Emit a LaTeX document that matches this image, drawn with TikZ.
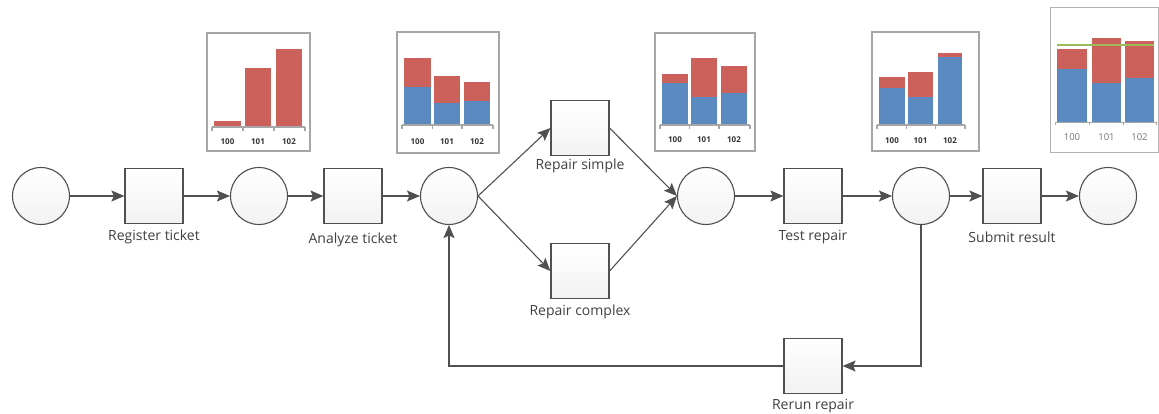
\documentclass[tikz,border=0pt]{standalone}
\usepackage{fontspec}
\setmainfont{Open Sans}
\usetikzlibrary{arrows.meta}

\definecolor{edge}{HTML}{505050}
\definecolor{txt}{HTML}{404040}
\definecolor{barred}{HTML}{CB615A}
\definecolor{barblue}{HTML}{5A8AC0}
\definecolor{target}{HTML}{9BBB59}
\definecolor{framegray}{HTML}{A6A6A6}

\tikzset{
  place/.style={circle, draw=edge, line width=1.1pt, minimum size=57pt, inner sep=0pt,
    top color=white, bottom color=black!5},
  transition/.style={rectangle, draw=edge, line width=1.2pt, minimum width=58pt, minimum height=55pt, inner sep=0pt,
    top color=white, bottom color=black!5},
  caption/.style={text=txt, font=\fontsize{14}{16}\selectfont, inner sep=0pt},
  flow/.style={draw=edge, line width=1.1pt, -{Stealth[length=13pt,width=11pt,inset=2.5pt]}},
  chartframe/.style={draw=framegray, line width=2pt},
  chartaxis/.style={draw=framegray, line width=1.2pt},
  ticklbl/.style={text=black!80, font=\fontsize{8}{9}\selectfont\bfseries, inner sep=0pt},
  ticklblb/.style={text=black!55, font=\fontsize{9.5}{11}\selectfont, inner sep=0pt},
}

\begin{document}
\begin{tikzpicture}[x=1pt, y=-1pt]
\useasboundingbox (0,0) rectangle (1159,414);

% ---- places and transitions ----
\node[place] (p1) at (41,196) {};
\node[transition] (t1) at (154,196) {};
\node[place] (p2) at (259,196) {};
\node[transition] (t2) at (353,196) {};
\node[place] (p3) at (449,196) {};
\node[transition] (t3) at (580,128) {};
\node[transition] (t4) at (580,271) {};
\node[place] (p4) at (706,196) {};
\node[transition] (t5) at (813,196) {};
\node[place] (p5) at (921,196) {};
\node[transition] (t6) at (1012,196) {};
\node[place] (p6) at (1108,196) {};
\node[transition] (t7) at (813,366) {};

% ---- captions ----
\node[caption] (l1) at (154,237) {Register ticket};
\node[caption] (l2) at (353,240) {Analyze ticket};
\node[caption] (l3) at (580,166) {Repair simple};
\node[caption] (l4) at (580,312) {Repair complex};
\node[caption] (l5) at (813,237) {Test repair};
\node[caption] (l6) at (1012,237) {Submit result};
\node[caption] (l7) at (813,406) {Rerun repair};

% ---- arcs ----
\draw[flow] (p1) -- (t1);
\draw[flow] (t1) -- (p2);
\draw[flow] (p2) -- (t2);
\draw[flow] (t2) -- (p3);
\draw[flow] (p3.east) -- (t3.west |- 0,128);
\draw[flow] (p3.east) -- (t4.west |- 0,271);
\draw[flow] (t3.east) -- (p4.west);
\draw[flow] (t4.east) -- (p4.west);
\draw[flow] (p4) -- (t5);
\draw[flow] (t5) -- (p5);
\draw[flow] (p5) -- (t6);
\draw[flow] (t6) -- (p6);
\coordinate (c1) at (921,366);
\coordinate (c2) at (449,366);
\draw[flow] (p5.south) -- (c1) -- (t7.east);
\draw[flow] (t7.west) -- (c2) -- (p3.south);

% ---- mini charts ----
% chart 1
\draw[chartframe, fill=white] (207,33) rectangle (310,151);
\foreach \a/\b/\r/\u in {214/241/121/127, 245/271/68/127, 276/302/49/127}{
  \fill[barred] (\a,\r) rectangle (\b,\u);
  \fill[barblue] (\a,\u) rectangle (\b,127);
}
\draw[chartaxis] (212,127) -- (305,127);
\foreach \t in {212,243,274,305} \draw[chartaxis] (\t,127) -- (\t,131);
\node[ticklbl] at (227.5,142) {100};
\node[ticklbl] at (258,142) {101};
\node[ticklbl] at (289,142) {102};

% chart 2
\draw[chartframe, fill=white] (397,32) rectangle (499,153);
\foreach \a/\b/\r/\u in {404/431/58/87, 434/460/76/103, 464/490/82/101}{
  \fill[barred] (\a,\r) rectangle (\b,\u);
  \fill[barblue] (\a,\u) rectangle (\b,125);
}
\draw[chartaxis] (402,125) -- (493,125);
\foreach \t in {402,432.5,462,493} \draw[chartaxis] (\t,125) -- (\t,129);
\node[ticklbl] at (417.5,142) {100};
\node[ticklbl] at (447,142) {101};
\node[ticklbl] at (477,142) {102};

% chart 3
\draw[chartframe, fill=white] (655,33) rectangle (755,151);
\foreach \a/\b/\r/\u in {662/688/74/83, 691/717/58/97, 721/747/66/93}{
  \fill[barred] (\a,\r) rectangle (\b,\u);
  \fill[barblue] (\a,\u) rectangle (\b,125);
}
\draw[chartaxis] (660,125) -- (750,125);
\foreach \t in {660,689.5,719,750} \draw[chartaxis] (\t,125) -- (\t,129);
\node[ticklbl] at (675,140) {100};
\node[ticklbl] at (704,140) {101};
\node[ticklbl] at (734,140) {102};

% chart 4
\draw[chartframe, fill=white] (872,32) rectangle (979,151);
\foreach \a/\b/\r/\u in {879/905/77/88, 908/933/72/97, 938/962/53/57}{
  \fill[barred] (\a,\r) rectangle (\b,\u);
  \fill[barblue] (\a,\u) rectangle (\b,125);
}
\draw[chartaxis] (877,125) -- (965,125);
\foreach \t in {877,906.5,935.5,965} \draw[chartaxis] (\t,125) -- (\t,129);
\node[ticklbl] at (892,141) {100};
\node[ticklbl] at (920.5,141) {101};
\node[ticklbl] at (950,141) {102};

% chart 5
\draw[draw=black!30, line width=1pt, fill=white] (1050,8) rectangle (1158,153);
\foreach \a/\b/\r/\u in {1057/1087/49/69, 1092/1121/38/83, 1125/1154/41/78}{
  \fill[barred] (\a,\r) rectangle (\b,\u);
  \fill[barblue] (\a,\u) rectangle (\b,122);
}
\draw[draw=target, line width=1.5pt] (1057,45) -- (1154,45);
\draw[draw=black!35, line width=0.8pt] (1055,122) -- (1156,122);
\foreach \t in {1055,1089.5,1123,1156} \draw[draw=black!35, line width=0.8pt] (\t,122) -- (\t,125);
\node[ticklblb] at (1072,137) {100};
\node[ticklblb] at (1106.5,137) {101};
\node[ticklblb] at (1139.5,137) {102};
\end{tikzpicture}
\end{document}
